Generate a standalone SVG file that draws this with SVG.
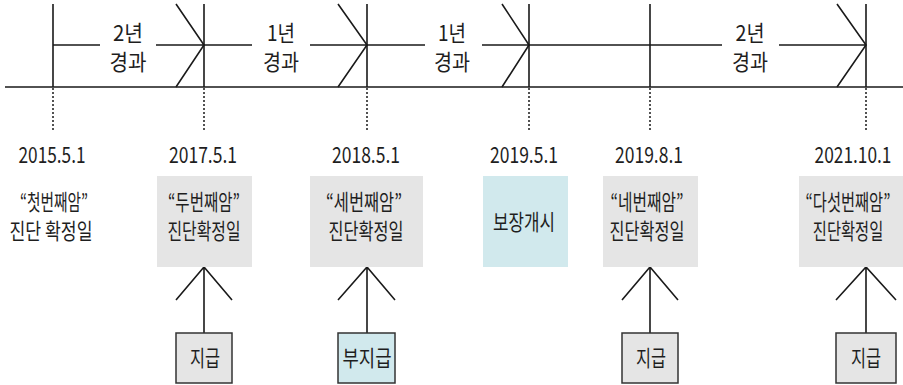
<svg xmlns="http://www.w3.org/2000/svg" width="903" height="385" viewBox="0 0 903 385">
<style>
.ln{stroke:#1a1a1a;stroke-width:1.6;fill:none}
.dot{stroke:#1a1a1a;stroke-width:1.5;stroke-dasharray:2 2;fill:none}
.t{font-family:"Noto Sans CJK KR","Noto Sans",sans-serif;font-size:22px;fill:#1e1e1e;text-anchor:middle}
.g{fill:#e5e5e5}
.b{fill:#d1e9ed}
.sb{stroke:#333;stroke-width:1.5}
</style>
<rect width="903" height="385" fill="#fff"/>
<g id="timeline">
<path class="ln" d="M5,87H903M53,4V87M204,4V87M367,4V87M529,4V87M650,4V87M866,4V87"/>
<path class="dot" d="M53,88V130M204,88V130M367,88V130M529,88V130M650,88V130M866,88V130"/>
</g>
<g id="connectors">
<path class="ln" d="M53,45H100M156,45H204M176,4L204,45L176,87"/>
<path class="ln" d="M204,45H252M310,45H367M338,4L367,45L338,87"/>
<path class="ln" d="M367,45H425M482,45H529M502,4L529,45L502,87"/>
<path class="ln" d="M529,45H722M779,45H866M837,4L866,45L837,87"/>
<path class="ln" d="M204,333V267M176,300L204,267L232,300"/>
<path class="ln" d="M367,333V267M338,300L367,267L395,300"/>
<path class="ln" d="M650,333V267M622,300L650,267L678,300"/>
<path class="ln" d="M866,333V267M836,300L866,267L896,300"/>
</g>
<g id="period-labels">
<text class="t" x="128" y="41" textLength="30" lengthAdjust="spacingAndGlyphs">2년</text>
<text class="t" x="128" y="70" textLength="37" lengthAdjust="spacingAndGlyphs">경과</text>
<text class="t" x="281" y="41" textLength="28" lengthAdjust="spacingAndGlyphs">1년</text>
<text class="t" x="281" y="70" textLength="36" lengthAdjust="spacingAndGlyphs">경과</text>
<text class="t" x="452" y="41" textLength="28" lengthAdjust="spacingAndGlyphs">1년</text>
<text class="t" x="452" y="70" textLength="36" lengthAdjust="spacingAndGlyphs">경과</text>
<text class="t" x="750" y="41" textLength="29" lengthAdjust="spacingAndGlyphs">2년</text>
<text class="t" x="750" y="70" textLength="36" lengthAdjust="spacingAndGlyphs">경과</text>
</g>
<g id="node-2015">
<text class="t" x="52" y="163" textLength="67" lengthAdjust="spacingAndGlyphs">2015.5.1</text>
<text class="t" x="54" y="210" textLength="68" lengthAdjust="spacingAndGlyphs">“첫번째암”</text>
<text class="t" x="51" y="239" textLength="83" lengthAdjust="spacingAndGlyphs">진단 확정일</text>
</g>
<g id="node-2017">
<text class="t" x="203" y="163" textLength="68" lengthAdjust="spacingAndGlyphs">2017.5.1</text>
<rect class="g" x="157" y="176" width="95" height="91"/>
<text class="t" x="204" y="210" textLength="72" lengthAdjust="spacingAndGlyphs">“두번째암”</text>
<text class="t" x="204" y="239" textLength="73" lengthAdjust="spacingAndGlyphs">진단확정일</text>
</g>
<g id="node-2018">
<text class="t" x="366" y="163" textLength="68" lengthAdjust="spacingAndGlyphs">2018.5.1</text>
<rect class="g" x="310" y="176" width="113" height="91"/>
<text class="t" x="364" y="210" textLength="76" lengthAdjust="spacingAndGlyphs">“세번째암”</text>
<text class="t" x="366" y="239" textLength="75" lengthAdjust="spacingAndGlyphs">진단확정일</text>
</g>
<g id="node-2019-5">
<text class="t" x="524" y="163" textLength="68" lengthAdjust="spacingAndGlyphs">2019.5.1</text>
<rect class="b" x="483" y="176" width="85" height="91"/>
<text class="t" x="524" y="230" textLength="62" lengthAdjust="spacingAndGlyphs">보장개시</text>
</g>
<g id="node-2019-8">
<text class="t" x="649" y="163" textLength="68" lengthAdjust="spacingAndGlyphs">2019.8.1</text>
<rect class="g" x="603" y="176" width="95" height="91"/>
<text class="t" x="647" y="210" textLength="73" lengthAdjust="spacingAndGlyphs">“네번째암”</text>
<text class="t" x="647" y="239" textLength="75" lengthAdjust="spacingAndGlyphs">진단확정일</text>
</g>
<g id="node-2021">
<text class="t" transform="translate(853,163) scale(0.8,1)" x="0" y="0" textLength="96" lengthAdjust="spacingAndGlyphs">2021.10.1</text>
<rect class="g" x="799" y="176" width="104" height="91"/>
<text class="t" transform="translate(848,210) scale(0.8,1)" x="0" y="0" textLength="106" lengthAdjust="spacingAndGlyphs">“다섯번째암”</text>
<text class="t" transform="translate(848,239) scale(0.8,1)" x="0" y="0" textLength="88" lengthAdjust="spacingAndGlyphs">진단확정일</text>
</g>
<g id="pay-1">
<rect class="g sb" x="176" y="333" width="56" height="50"/>
<text class="t" x="205" y="366" textLength="30" lengthAdjust="spacingAndGlyphs">지급</text>
</g>
<g id="pay-2">
<rect class="b sb" x="338" y="333" width="57" height="50"/>
<text class="t" x="367" y="366" textLength="49" lengthAdjust="spacingAndGlyphs">부지급</text>
</g>
<g id="pay-3">
<rect class="g sb" x="622" y="333" width="56" height="50"/>
<text class="t" x="651" y="366" textLength="30" lengthAdjust="spacingAndGlyphs">지급</text>
</g>
<g id="pay-4">
<rect class="g sb" x="836" y="333" width="60" height="50"/>
<text class="t" x="866" y="366" textLength="30" lengthAdjust="spacingAndGlyphs">지급</text>
</g>
</svg>
